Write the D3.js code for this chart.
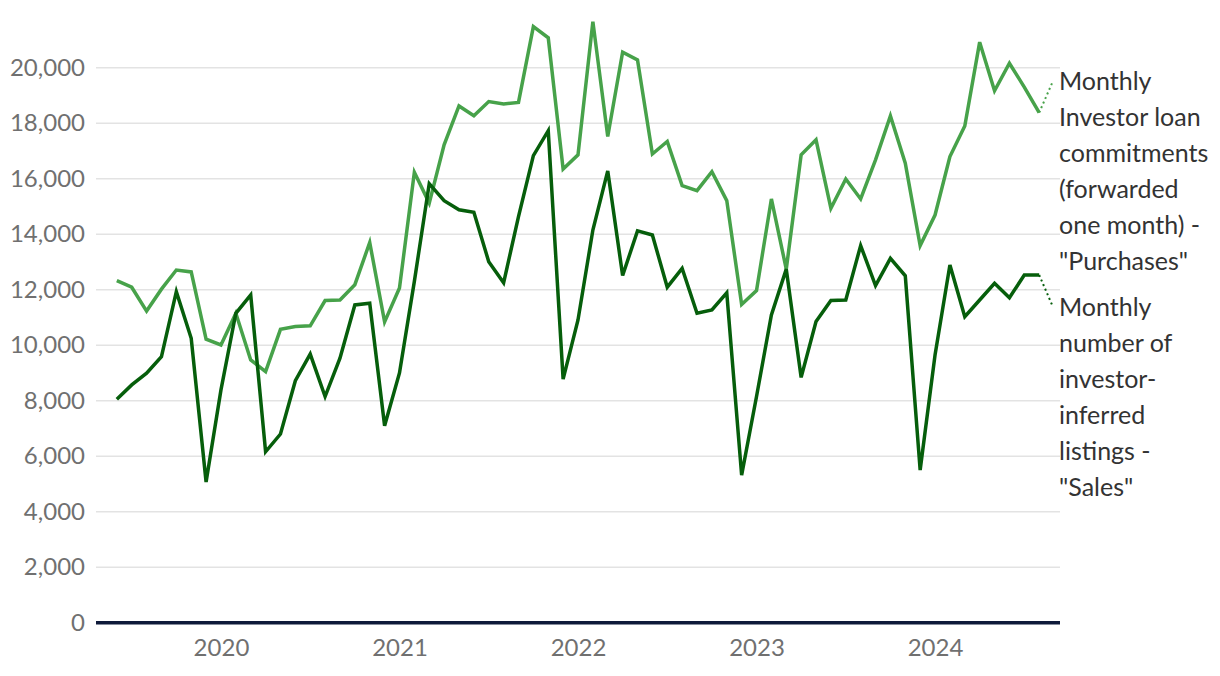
<!DOCTYPE html>
<html>
<head>
<meta charset="utf-8">
<script src="https://cdn.jsdelivr.net/npm/d3@7"></script>
<style>
  body { margin: 0; background: #fff; }
  svg { display: block; }
</style>
</head>
<body>
<script>
// monthly data, Jun 2019 .. Aug 2024 (index 0 = Jun 2019)
var startYear = 2019, startMonth = 6;

var purchases = [12330, 12090, 11230, 12020, 12710, 12640, 10220, 10010, 11150, 9470,
  9050, 10570, 10670, 10700, 11610, 11630, 12180, 13700, 10840, 12060,
  16230, 15120, 17220, 18620, 18270, 18780, 18690, 18750, 21480, 21080,
  16350, 16860, 21660, 17520, 20560, 20280, 16890, 17340, 15750, 15570,
  16250, 15210, 11470, 11970, 15270, 12740, 16860, 17400, 14930, 15990,
  15270, 16680, 18260, 16560, 13590, 14690, 16800, 17900, 20920, 19170,
  20160, 19300, 18380];

var sales = [8050, 8570, 8990, 9590, 11930, 10250, 5070, 8390, 11150, 11810,
  6160, 6800, 8720, 9680, 8150, 9530, 11450, 11510, 7100, 9000,
  12300, 15820, 15210, 14880, 14790, 13010, 12250, 14630, 16830, 17730,
  8780, 10910, 14150, 16280, 12510, 14120, 13970, 12090, 12770, 11150,
  11270, 11890, 5320, 8150, 11090, 12740, 8840, 10850, 11610, 11630,
  13590, 12150, 13130, 12500, 5500, 9650, 12890, 11030, 11630, 12230,
  11710, 12530, 12530];

var yearLabels = [2020, 2021, 2022, 2023, 2024];
var yTicks = [0, 2000, 4000, 6000, 8000, 10000, 12000, 14000, 16000, 18000, 20000];

var purchasesLabel = ["Monthly", "Investor loan", "commitments", "(forwarded", "one month) -", "\"Purchases\""];
var salesLabel = ["Monthly", "number of", "investor-", "inferred", "listings -", "\"Sales\""];

var width = 1220, height = 676;
var plotLeft = 96, plotRight = 1060, plotTop = 12.2, plotBottom = 622.7;

var colLight = "#47a24a", colDark = "#065e0b";
var font = "Lato, 'Open Sans', sans-serif";

var svg = d3.select("body").append("svg")
    .attr("width", width)
    .attr("height", height);

var x = d3.scaleLinear().domain([-1.4, 63.4]).range([plotLeft, plotRight]);
var y = d3.scaleLinear().domain([0, 22000]).range([plotBottom, plotTop]);

// gridlines
svg.append("g")
    .selectAll("line")
    .data(yTicks.filter(function(d) { return d > 0; }))
    .enter().append("line")
    .attr("x1", plotLeft).attr("x2", plotRight)
    .attr("y1", function(d) { return y(d); })
    .attr("y2", function(d) { return y(d); })
    .attr("stroke", "#e3e3e3")
    .attr("stroke-width", 1.5);

// y axis labels
var yAxis = d3.axisLeft(y)
    .tickValues(yTicks)
    .tickFormat(d3.format(","))
    .tickSize(0)
    .tickPadding(0);

var gy = svg.append("g")
    .attr("transform", "translate(85,0)")
    .call(yAxis);
gy.select(".domain").remove();
gy.selectAll("text")
    .attr("fill", "#707070")
    .style("font-family", font)
    .style("font-size", "24px");

// x axis labels at January of each year
function monthIndex(year) {
  return (year - startYear) * 12 + (1 - startMonth);
}

var xAxis = d3.axisBottom(x)
    .tickValues(yearLabels.map(monthIndex))
    .tickFormat(function(d) { return String(startYear + Math.floor((d + startMonth - 1) / 12)); })
    .tickSize(0)
    .tickPadding(16);

var gx = svg.append("g")
    .attr("transform", "translate(0," + plotBottom + ")")
    .call(xAxis);
gx.select(".domain").remove();
gx.selectAll("text")
    .attr("fill", "#707070")
    .style("font-family", font)
    .style("font-size", "24px");

// baseline
svg.append("line")
    .attr("x1", plotLeft).attr("x2", plotRight)
    .attr("y1", y(0)).attr("y2", y(0))
    .attr("stroke", "#0e1a3a")
    .attr("stroke-width", 3.5);

var line = d3.line()
    .x(function(d, i) { return x(i); })
    .y(function(d) { return y(d); });

svg.append("path")
    .datum(purchases)
    .attr("fill", "none")
    .attr("stroke", colLight)
    .attr("stroke-width", 3.5)
    .attr("stroke-linejoin", "miter")
    .attr("d", line);

svg.append("path")
    .datum(sales)
    .attr("fill", "none")
    .attr("stroke", colDark)
    .attr("stroke-width", 3.5)
    .attr("stroke-linejoin", "miter")
    .attr("d", line);

// series labels with dotted leaders
function seriesLabel(values, lines, firstY, colour) {
  var last = values.length - 1;
  svg.append("line")
      .attr("x1", x(last)).attr("y1", y(values[last]))
      .attr("x2", 1053).attr("y2", firstY)
      .attr("stroke", colour)
      .attr("stroke-width", 2)
      .attr("stroke-dasharray", "2,3");

  svg.append("text")
      .attr("x", 1059)
      .attr("y", firstY + 9)
      .attr("fill", "#333")
      .style("font-family", font)
      .style("font-size", "25px")
      .selectAll("tspan")
      .data(lines)
      .enter().append("tspan")
      .attr("x", 1059)
      .attr("dy", function(d, i) { return i === 0 ? 0 : 36; })
      .text(function(d) { return d; });
}

seriesLabel(purchases, purchasesLabel, 81, colLight);
seriesLabel(sales, salesLabel, 307, colDark);
</script>
</body>
</html>
